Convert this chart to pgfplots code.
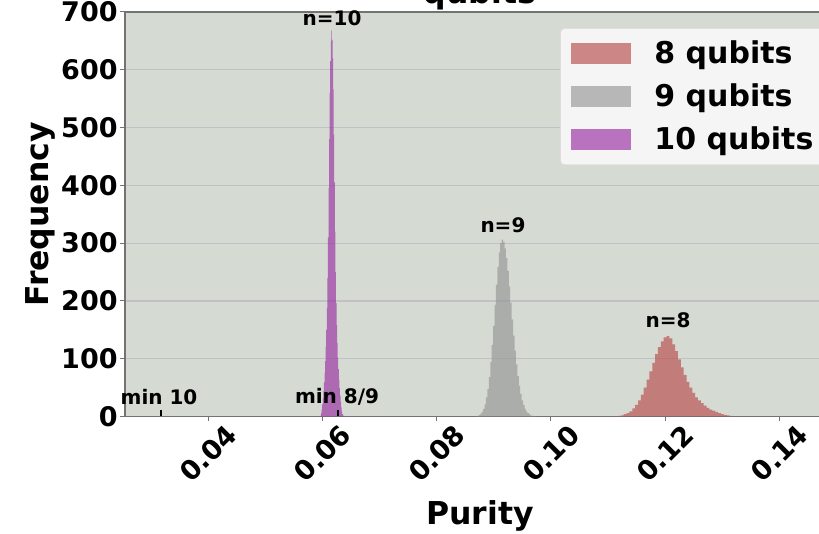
\documentclass[border=0pt]{standalone}
\usepackage{fontspec}
\setmainfont{DejaVu Sans}
\usepackage{pgfplots}
\pgfplotsset{compat=1.18}
\definecolor{bgc}{RGB}{213,218,210}
\definecolor{c8}{RGB}{184,76,76}
\definecolor{c9}{RGB}{150,150,150}
\definecolor{c10}{RGB}{153,45,160}
\definecolor{gridc}{RGB}{192,192,198}
\definecolor{spine}{RGB}{115,115,115}
\definecolor{legbg}{RGB}{245,245,245}
\definecolor{legedge}{RGB}{222,222,222}

\begin{document}
\begin{tikzpicture}
% page = the cropped 819x534 view (1px = 0.5pt)
\path[use as bounding box] (-62.5pt,-58.75pt) rectangle (347pt,208.25pt);
\clip (-62.5pt,-58.75pt) rectangle (347pt,208.25pt);
\begin{axis}[
    at={(0,0)}, anchor=south west,
    scale only axis,
    width=355pt, height=202.25pt,
    xmin=0.02541, xmax=0.14975,
    ymin=0, ymax=700,
    clip=false,
    axis background/.style={fill=bgc},
    xtick={0.04,0.06,0.08,0.10,0.12,0.14},
    xticklabels={0.04,0.06,0.08,0.10,0.12,0.14},
    ytick={0,100,200,300,400,500,600,700},
    yticklabels={0,100,200,300,400,500,600,700},
    ymajorgrids,
    grid style={gridc, line width=0.6pt},
    tick align=outside,
    major tick length=2.5pt,
    xtick pos=left, ytick pos=left,
    tick style={spine, line width=0.5pt},
    axis line style={spine, line width=0.6pt},
    ticklabel style={font=\fontsize{13.5}{15}\selectfont\bfseries},
    xticklabel style={yshift=-16pt, anchor=center, rotate=45},
    yticklabel style={inner sep=1pt},
    xlabel={Purity},
    ylabel={Frequency},
    every axis x label/.style={at={(axis description cs:0.5,-0.2447)}, anchor=center,
        font=\fontsize{15.75}{18}\selectfont\bfseries},
    every axis y label/.style={at={(axis description cs:-0.1197,0.5)}, anchor=center, rotate=90,
        font=\fontsize{15.75}{18}\selectfont\bfseries},
    title={qubits},
    every axis title/.style={at={(axis description cs:0.5,1.0222)}, anchor=base,
        font=\fontsize{15.75}{18}\selectfont\bfseries},
    legend style={
        at={(rel axis cs:0.6127,0.960)}, anchor=north west,
        fill=legbg, draw=legedge, rounded corners=2pt,
        font=\fontsize{15}{17}\selectfont\bfseries,
        inner xsep=5.3pt, inner ysep=1.8pt,
        nodes={inner sep=4.2pt},
        row sep=0.3pt,
        /tikz/every odd column/.append style={column sep=7.5pt},
    },
    legend cell align={left},
    legend image code/.code={\fill[#1, sharp corners] (0pt,-5.25pt) rectangle (30pt,5.25pt);},
]

% 8 qubits
\addplot[fill=c8, fill opacity=0.65, draw=none, const plot] coordinates {
    (0.11175,1) (0.11225,2) (0.11275,4) (0.11325,6) (0.11375,9)
    (0.11425,14) (0.11475,20) (0.11525,28) (0.11575,38) (0.11625,50)
    (0.11675,64) (0.11725,78) (0.11775,93) (0.11825,108) (0.11875,120)
    (0.11925,130) (0.11975,137) (0.12025,139) (0.12075,135) (0.12125,125)
    (0.12175,113) (0.12225,99) (0.12275,85) (0.12325,72) (0.12375,60)
    (0.12425,50) (0.12475,41) (0.12525,33) (0.12575,28) (0.12625,23)
    (0.12675,19) (0.12725,15) (0.12775,12) (0.12825,10) (0.12875,8)
    (0.12925,6) (0.12975,4) (0.13025,3) (0.13075,2) (0.13125,1)
    (0.13175,0)
} \closedcycle;
\addlegendentry{8 qubits}

% 9 qubits
\addplot[fill=c9, fill opacity=0.65, draw=none, const plot] coordinates {
    (0.087125,1) (0.087375,3) (0.087625,5) (0.087875,8) (0.088125,13)
    (0.088375,21) (0.088625,33) (0.088875,48) (0.089125,68) (0.089375,94)
    (0.089625,124) (0.089875,157) (0.090125,193) (0.090375,228) (0.090625,259)
    (0.090875,284) (0.091125,300) (0.091375,306) (0.091625,302) (0.091875,291)
    (0.092125,274) (0.092375,252) (0.092625,225) (0.092875,197) (0.093125,168)
    (0.093375,140) (0.093625,114) (0.093875,90) (0.094125,70) (0.094375,53)
    (0.094625,39) (0.094875,28) (0.095125,20) (0.095375,13) (0.095625,9)
    (0.095875,6) (0.096125,4) (0.096375,2) (0.096625,1) (0.096875,1)
    (0.097125,0)
} \closedcycle;
\addlegendentry{9 qubits}

% 10 qubits
\addplot[fill=c10, fill opacity=0.65, draw=none, const plot] coordinates {
    (0.05965,2) (0.05975,6) (0.05985,12) (0.05995,21) (0.06005,32)
    (0.06015,44) (0.06025,59) (0.06035,76) (0.06045,96) (0.06055,120)
    (0.06065,150) (0.06075,188) (0.06085,240) (0.06095,310) (0.06105,395)
    (0.06115,480) (0.06125,560) (0.06135,615) (0.06145,650) (0.06155,668)
    (0.06165,652) (0.06175,620) (0.06185,566) (0.06195,488) (0.06205,405)
    (0.06215,320) (0.06225,250) (0.06235,196) (0.06245,158) (0.06255,127)
    (0.06265,102) (0.06275,82) (0.06285,64) (0.06295,49) (0.06305,36)
    (0.06315,25) (0.06325,16) (0.06335,9) (0.06345,4) (0.06355,2)
    (0.06365,1) (0.06375,0)
} \closedcycle;
\addlegendentry{10 qubits}

% minimum markers
\addplot[black, line width=1pt, forget plot] coordinates {(0.03172,0) (0.03172,11)};
\addplot[black, line width=1pt, forget plot] coordinates {(0.06277,0) (0.06277,11)};

\begin{scope}[every node/.style={font=\fontsize{10}{12}\selectfont\bfseries}]
\node at (axis cs:0.06166,690) {n=10};
\node at (axis cs:0.0916,331) {n=9};
\node at (axis cs:0.1205,167) {n=8};
\node at (axis cs:0.03137,34) {min 10};
\node at (axis cs:0.06254,34) {min 8/9};
\end{scope}

\end{axis}
\end{tikzpicture}
\end{document}
